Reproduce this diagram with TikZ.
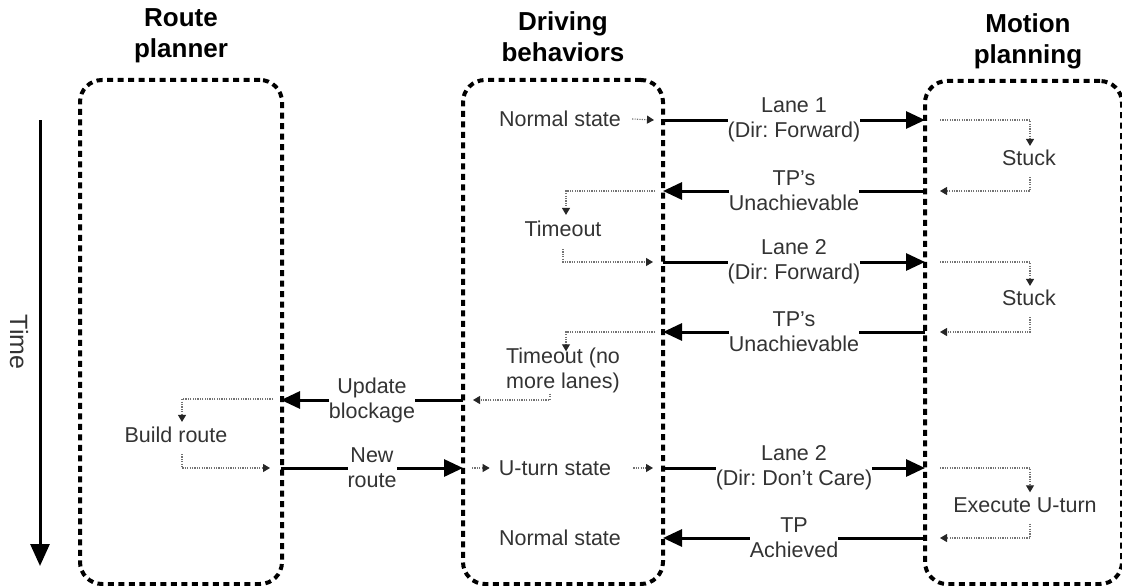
\documentclass[tikz,border=0pt]{standalone}
\usepackage{fontspec}
\setmainfont{Liberation Sans}
\usetikzlibrary{arrows.meta}
\frenchspacing

\begin{document}
\begin{tikzpicture}[x=1pt,y=-1pt,
  lane/.style={draw, line width=4pt, dash pattern=on 6pt off 4.5pt,
    rounded corners=22pt, inner sep=0pt},
  title/.style={font=\fontsize{26}{31}\selectfont\bfseries, align=center},
  lbl/.style={font=\fontsize{21.5}{25}\selectfont, text=black!80, align=center, inner sep=1pt},
  msglbl/.style={lbl, fill=white, inner sep=0pt},
  msg/.style={line width=3pt, -{Triangle[length=19pt,width=17pt]}},
  flow/.style={line width=1.1pt, draw=black!55, dash pattern=on 1.2pt off 1.2pt,
    -{Triangle[length=7pt,width=8pt,color=black!85]}},
]
\useasboundingbox (0,0) rectangle (1122,586);

% swim lanes
\node[lane, minimum width=202pt, minimum height=504pt] (RP) at (181,332) {};
\node[lane, minimum width=200pt, minimum height=504pt] (DB) at (563,332) {};
\node[lane, minimum width=197pt, minimum height=503pt] (MP) at (1023.5,332.5) {};

\node[title] (tRP) at (181,36) {Route\\planner};
\node[title] (tDB) at (563,37) {Driving\\behaviors};
\node[title] (tMP) at (1028,41) {Motion\\planning};

% time axis
\coordinate (t0) at (40,120);
\coordinate (t1) at (40,566);
\draw[line width=3pt, -{Triangle[length=22pt,width=19pt]}] (t0) -- (t1);
\node[font=\fontsize{25}{30}\selectfont, text=black!80, rotate=-90] (time) at (19,342) {Time};

% ports on the lane borders
\foreach \n/\y in {1/120,2/191,3/262,4/332,6/468,7/538}{
  \coordinate (d\n) at (663,\y);
  \coordinate (m\n) at (925,\y);
}
\coordinate (d5) at (463,400);
\coordinate (r5) at (281,400);
\coordinate (d6l) at (463,468);
\coordinate (r6) at (281,468);

% messages between lanes
\draw[msg] (d1) -- node[msglbl] (l1) {Lane 1\\(Dir: Forward)} (m1);
\draw[msg] (m2) -- node[msglbl] (l2) {TP's\\Unachievable} (d2);
\draw[msg] (d3) -- node[msglbl] (l3) {Lane 2\\(Dir: Forward)} (m3);
\draw[msg] (m4) -- node[msglbl] (l4) {TP's\\Unachievable} (d4);
\draw[msg] (d5) -- node[msglbl] (l5) {Update\\blockage} (r5);
\draw[msg] (r6) -- node[msglbl] (l6) {New\\route} (d6l);
\draw[msg] (d6) -- node[msglbl] (l7) {Lane 2\\(Dir: Don't Care)} (m6);
\draw[msg] (m7) -- node[msglbl] (l8) {TP\\Achieved} (d7);

% states inside the lanes
\node[lbl] (ns1) at (560,119) {Normal state};
\node[lbl] (to1) at (563,229) {Timeout};
\node[lbl] (to2) at (563,370) {Timeout (no\\more lanes)};
\node[lbl] (ut)  at (555,468) {U-turn state};
\node[lbl] (ns2) at (560,538) {Normal state};
\node[lbl] (br)  at (176,435) {Build route};
\node[lbl] (st1) at (1029,158) {Stuck};
\node[lbl] (st2) at (1029,298) {Stuck};
\node[lbl] (eu)  at (1025,505) {Execute U-turn};

% internal flow
\coordinate (a1) at (654,120);
\coordinate (a2) at (655,191);
\coordinate (a3) at (653,262);
\coordinate (a4) at (655,332);
\coordinate (a5) at (473,400);
\coordinate (a6) at (472,468);
\coordinate (a7) at (653,468);
\coordinate (b5) at (273,399);
\coordinate (b6) at (270,468);
\coordinate (c1) at (940,120);
\coordinate (c2) at (940,191);
\coordinate (c3) at (940,262);
\coordinate (c4) at (940,332);
\coordinate (c6) at (940,468);
\coordinate (c7) at (940,538);

\draw[flow] ([xshift=10pt]ns1.east) -- (a1);
\draw[flow] (a2) -| ([xshift=3pt,yshift=5pt]to1.north);
\draw[flow] ([yshift=-11pt]to1.south) |- (a3);
\draw[flow] (c1) -| ([xshift=1pt,yshift=3pt]st1.north);
\draw[flow] ([xshift=1pt,yshift=-10pt]st1.south) |- (c2);
\draw[flow] (c3) -| ([xshift=1pt,yshift=3pt]st2.north);
\draw[flow] ([xshift=1pt,yshift=-10pt]st2.south) |- (c4);
\draw[flow] (a4) -| ([xshift=3pt,yshift=-5pt]to2.north);
\draw[flow] ([xshift=-13pt]to2.south) |- (a5);
\draw[flow] (b5) -| ([xshift=6pt,yshift=4pt]br.north);
\draw[flow] ([xshift=6pt,yshift=-10pt]br.south) |- (b6);
\draw[flow] (a6) -- ([xshift=-8pt]ut.west);
\draw[flow] ([xshift=21pt]ut.east) -- (a7);
\draw[flow] (c6) -| ([xshift=5pt,yshift=4pt]eu.north);
\draw[flow] ([xshift=5pt,yshift=-10pt]eu.south) |- (c7);
\end{tikzpicture}
\end{document}
